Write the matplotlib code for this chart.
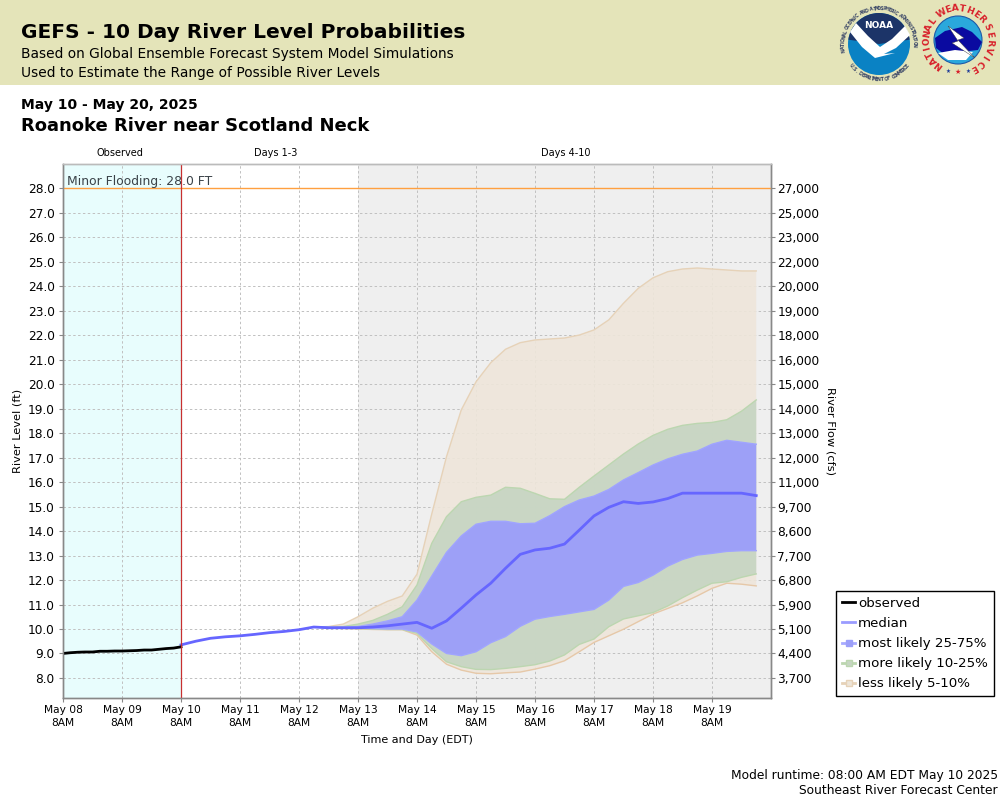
import numpy as np
import pandas as pd
import matplotlib
matplotlib.use('Agg')
import matplotlib.pyplot as plt
import matplotlib.dates as mdates
from matplotlib.lines import Line2D
from matplotlib.patches import Circle, Polygon, Rectangle, Wedge

# observed stage, every 3 hours from May 08 8AM
observed = [9.0, 9.03, 9.05, 9.06, 9.06, 9.09, 9.09, 9.1, 9.1, 9.11, 9.12, 9.14, 9.14, 9.17, 9.2, 9.22, 9.27]

# forecast stage, every 6 hours from May 10 8AM
median = [9.35, 9.5, 9.62, 9.68, 9.72, 9.78, 9.85, 9.9, 9.97, 10.08, 10.05, 10.05, 10.05, 10.08, 10.13, 10.2,
          10.27, 10.03, 10.33, 10.85, 11.39, 11.87, 12.48, 13.05, 13.23, 13.3, 13.47, 14.04, 14.62, 14.97,
          15.2, 15.13, 15.19, 15.33, 15.55, 15.55, 15.55, 15.55, 15.55, 15.45]
# the bands start at May 12 2PM, before that they sit on the median
p75 = [10.08, 10.07, 10.07, 10.1, 10.2, 10.33, 10.5, 11.18, 12.16, 13.13, 13.8, 14.28, 14.4, 14.4, 14.3, 14.32,
       14.63, 15.0, 15.27, 15.43, 15.7, 16.09, 16.39, 16.7, 16.95, 17.14, 17.27, 17.55, 17.71, 17.63, 17.55]
p25 = [10.08, 10.05, 10.04, 10.03, 10.02, 10.0, 10.0, 9.88, 9.39, 9.0, 8.91, 9.07, 9.44, 9.69, 10.11, 10.4,
       10.51, 10.6, 10.7, 10.8, 11.18, 11.74, 11.9, 12.2, 12.57, 12.84, 13.02, 13.09, 13.17, 13.2, 13.2]
p90 = [10.08, 10.08, 10.1, 10.2, 10.35, 10.6, 10.91, 11.8, 13.5, 14.59, 15.2, 15.38, 15.47, 15.79, 15.75, 15.54,
       15.32, 15.3, 15.79, 16.25, 16.7, 17.15, 17.56, 17.91, 18.16, 18.32, 18.4, 18.44, 18.55, 18.9, 19.36]
p10 = [10.08, 10.05, 10.03, 10.02, 10.0, 9.98, 9.98, 9.82, 9.2, 8.66, 8.46, 8.35, 8.34, 8.39, 8.46, 8.54,
       8.69, 8.94, 9.37, 9.59, 10.09, 10.41, 10.54, 10.67, 10.94, 11.28, 11.59, 11.87, 11.93, 12.11, 12.25]
p95 = [10.08, 10.1, 10.2, 10.5, 10.85, 11.13, 11.35, 12.24, 14.7, 17.04, 18.95, 20.1, 20.88, 21.43, 21.7, 21.81,
       21.85, 21.89, 22.01, 22.22, 22.63, 23.31, 23.92, 24.35, 24.6, 24.71, 24.75, 24.71, 24.67, 24.63, 24.63]
p5 = [10.08, 10.05, 10.02, 10.0, 9.98, 9.97, 9.97, 9.75, 9.07, 8.56, 8.32, 8.19, 8.17, 8.21, 8.24, 8.36,
      8.5, 8.7, 9.07, 9.45, 9.72, 9.99, 10.3, 10.61, 10.84, 11.07, 11.35, 11.66, 11.87, 11.83, 11.76]

stage_ticks = [8.0 + i for i in range(21)]
flow_labels = ['3,700', '4,400', '5,100', '5,900', '6,800', '7,700', '8,600', '9,700', '11,000', '12,000', '13,000',
               '14,000', '15,000', '16,000', '18,000', '19,000', '20,000', '22,000', '23,000', '25,000', '27,000']

obs_time = pd.date_range('2025-05-08 08:00', periods=len(observed), freq='3h')
fc_time = pd.date_range('2025-05-10 08:00', periods=len(median), freq='6h')
band_time = fc_time[9:]
day_ticks = pd.date_range('2025-05-08 08:00', periods=12, freq='D')

W, H = 1000.0, 800.0
fig = plt.figure(figsize=(10, 8), dpi=100, facecolor='white')


def ftext(x, y, s, **kw):
    # x, y are in pixels from the top left
    kw.setdefault('va', 'center')
    return fig.text(x / W, 1 - y / H, s, **kw)


fig.add_artist(Rectangle((0, 1 - 85 / H), 1, 85 / H, transform=fig.transFigure, facecolor='#e4e4b9', edgecolor='none', zorder=-1))

ftext(21, 33, 'GEFS - 10 Day River Level Probabilities', fontsize=14.5, fontweight='bold', color='black')
ftext(21, 54, 'Based on Global Ensemble Forecast System Model Simulations', fontsize=9.9)
ftext(21, 73, 'Used to Estimate the Range of Possible River Levels', fontsize=9.9)
ftext(21, 105, 'May 10 - May 20, 2025', fontsize=10, fontweight='semibold')
ftext(21, 126, 'Roanoke River near Scotland Neck', fontsize=13, fontweight='bold')

ax = fig.add_axes([63 / W, 1 - 698 / H, 708 / W, 534 / H])
t0 = pd.Timestamp('2025-05-08 08:00')
ax.set_xlim(t0, pd.Timestamp('2025-05-20 08:00'))
ax.set_ylim(7.18, 29.0)

ax.axvspan(t0, pd.Timestamp('2025-05-10 08:00'), facecolor='#e8fdfd', zorder=0)
ax.axvspan(pd.Timestamp('2025-05-13 08:00'), pd.Timestamp('2025-05-20 08:00'), facecolor='#efefef', zorder=0)
ax.grid(True, color='#c0c0c0', linestyle='--', linewidth=0.7, dashes=(2.5, 2.5), zorder=1)
ax.set_axisbelow(True)

# widest band first so the narrower ones lie on top
ax.fill_between(band_time, p5, p95, facecolor='#eee6da', alpha=0.9, edgecolor='none', zorder=2)
ax.fill_between(band_time, p10, p90, facecolor='#c7d6c3', alpha=0.95, edgecolor='none', zorder=3)
ax.fill_between(band_time, p25, p75, facecolor='#9c9ff9', alpha=0.98, edgecolor='none', zorder=4)
for band, col, z in [(p95, '#e6d2b8', 2.5), (p5, '#e6c8a8', 2.5), (p90, '#bcd6b0', 3.5), (p10, '#bcd6b0', 3.5),
                     (p75, '#a0a4ff', 4.5), (p25, '#a0a4ff', 4.5)]:
    ax.plot(band_time, band, color=col, linewidth=1.0, zorder=z)

ax.plot(fc_time, median, color='#6666ff', linewidth=2.0, zorder=5)
ax.plot(obs_time, observed, color='black', linewidth=2.0, zorder=6)
ax.axhline(28.0, color='#ffa040', linewidth=1.0, zorder=6)
ax.axvline(pd.Timestamp('2025-05-10 08:00'), color='#c83030', linewidth=0.9, zorder=6)
ax.text(pd.Timestamp('2025-05-08 09:30'), 28.27, 'Minor Flooding: 28.0 FT', fontsize=8.9, color='#3a4248', va='center', zorder=7)

ax.set_xticks(day_ticks)
ax.xaxis.set_major_formatter(mdates.DateFormatter('%b %d\n%-I%p'))
ax.set_yticks(stage_ticks)
ax.set_yticklabels(['%.1f' % s for s in stage_ticks])
ax.tick_params(axis='y', labelsize=8.7, length=3, width=0.8, color='#888888', pad=3)
ax.tick_params(axis='x', labelsize=7.7, length=3, width=0.8, color='#888888', pad=2)
for lab in ax.get_xticklabels():
    lab.set_linespacing(1.35)

ax2 = ax.twinx()
ax2.set_ylim(ax.get_ylim())
ax2.set_yticks(stage_ticks)
ax2.set_yticklabels(flow_labels)
ax2.tick_params(axis='y', labelsize=8.7, length=3, width=0.8, color='#888888', pad=1.5)

for a in (ax, ax2):
    for side in a.spines:
        a.spines[side].set_color('#888888')
        a.spines[side].set_linewidth(1.0)
    a.spines['top'].set_color('#bbbbbb')

ftext(120, 153, 'Observed', fontsize=7, ha='center')
ftext(276, 153, 'Days 1-3', fontsize=7, ha='center')
ftext(566, 153, 'Days 4-10', fontsize=7, ha='center')
ftext(18, 431, 'River Level (ft)', fontsize=8.2, rotation=90, ha='center')
ftext(831, 431, 'River Flow (cfs)', fontsize=8.2, rotation=270, ha='center')
ftext(417, 740, 'Time and Day (EDT)', fontsize=8, ha='center')
ftext(998, 775, 'Model runtime: 08:00 AM EDT May 10 2025', fontsize=8.8, ha='right')
ftext(998, 791, 'Southeast River Forecast Center', fontsize=8.8, ha='right')

handles = [
    Line2D([], [], color='black', linewidth=2),
    Line2D([], [], color='#9a9cff', linewidth=2),
    Line2D([], [], color='#a8aaff', linewidth=2, marker='s', markersize=5, markerfacecolor='#9c9ff9', markeredgecolor='#9c9ff9'),
    Line2D([], [], color='#bcd6b0', linewidth=2, marker='s', markersize=5, markerfacecolor='#c7d6c3', markeredgecolor='#bcd6b0'),
    Line2D([], [], color='#e6d2b8', linewidth=2, marker='s', markersize=5, markerfacecolor='#eee6da', markeredgecolor='#e6d2b8'),
]
labels = ['observed', 'median', 'most likely 25-75%', 'more likely 10-25%', 'less likely 5-10%']
leg = fig.legend(handles, labels, loc='upper left', bbox_to_anchor=(836 / W, 1 - 591 / H), bbox_transform=fig.transFigure,
                 fontsize=9.65, frameon=True, fancybox=False, framealpha=1, edgecolor='black', borderaxespad=0,
                 handlelength=1.0, handletextpad=0.2, labelspacing=0.53, borderpad=0.45)
leg.get_frame().set_linewidth(1.0)

# logos, drawn in pixel coordinates
lg = fig.add_axes([0, 0, 1, 1], facecolor='none')
lg.set_xlim(0, W)
lg.set_ylim(H, 0)
lg.axis('off')


def ring_text(cx, cy, r, s, a_start, a_end, **kw):
    # angles in degrees, clockwise from the top of the circle
    for ch, ang in zip(s, np.linspace(a_start, a_end, len(s))):
        rad = np.radians(ang)
        lg.text(cx + r * np.sin(rad), cy - r * np.cos(rad), ch, rotation=-ang, ha='center', va='center', **kw)


def ring_text_bottom(cx, cy, r, s, a_start, a_end, **kw):
    for ch, ang in zip(s, np.linspace(a_start, a_end, len(s))):
        rad = np.radians(ang)
        lg.text(cx + r * np.sin(rad), cy - r * np.cos(rad), ch, rotation=180 - ang, ha='center', va='center', **kw)


# NOAA
nx, ny = 879, 44
lg.add_patch(Circle((nx, ny), 31, facecolor='#0a82c4', edgecolor='none'))
lg.add_patch(Wedge((nx, ny), 31, 188, 352, facecolor='#1c3468', edgecolor='none'))
lg.add_patch(Polygon([(850, 32), (856, 23), (868, 36), (880, 47), (892, 39), (905, 26), (910, 35), (896, 48),
                      (884, 54), (895, 53), (875, 58), (862, 47)], closed=True, facecolor='white', edgecolor='none'))
lg.text(nx, 25, 'NOAA', color='white', fontsize=6.5, fontweight='bold', ha='center', va='center')
ring_text(nx, ny, 35.5, 'NATIONAL OCEANIC AND ATMOSPHERIC ADMINISTRATION', -100, 92, fontsize=3.4, color='#3c4868', fontweight='bold')
ring_text_bottom(nx, ny, 35.5, 'U.S. DEPARTMENT OF COMMERCE', 232, 128, fontsize=3.4, color='#3c4868', fontweight='bold')

# NWS
wx, wy = 958, 40
lg.add_patch(Circle((wx, wy), 24, facecolor='#2aa8dc', edgecolor='#1e5aa8', linewidth=0.8))
lg.add_patch(Polygon([(935, 38), (945, 31), (962, 27), (972, 32), (982, 42), (978, 50), (960, 52), (945, 55), (936, 48)],
                     closed=True, facecolor='#0a0aa0', edgecolor='none'))
lg.add_patch(Polygon([(938, 53), (955, 50), (973, 52), (966, 60), (948, 60)], closed=True, facecolor='white', edgecolor='none'))
lg.add_patch(Polygon([(948, 26), (964, 38), (958, 40), (975, 58), (952, 43), (958, 41)], closed=True, facecolor='white', edgecolor='#333333', linewidth=0.3))
ring_text(wx, wy, 31.5, 'WEATHER', -32, 49, fontsize=6.6, color='#d8202a', fontweight='bold')
ring_text(wx, wy, 31.5, 'NATIONAL', -143, -54, fontsize=6.4, color='#d8202a', fontweight='bold')
ring_text(wx, wy, 31.5, 'SERVICE', 66, 150, fontsize=6.4, color='#d8202a', fontweight='bold')
lg.text(wx - 10, 71, '★', fontsize=4, color='#1e3a98', ha='center', va='center')
lg.text(wx, 72, '★', fontsize=5, color='#d8202a', ha='center', va='center')
lg.text(wx + 10, 71, '★', fontsize=4, color='#1e3a98', ha='center', va='center')

fig.savefig('out.png', dpi=100)
